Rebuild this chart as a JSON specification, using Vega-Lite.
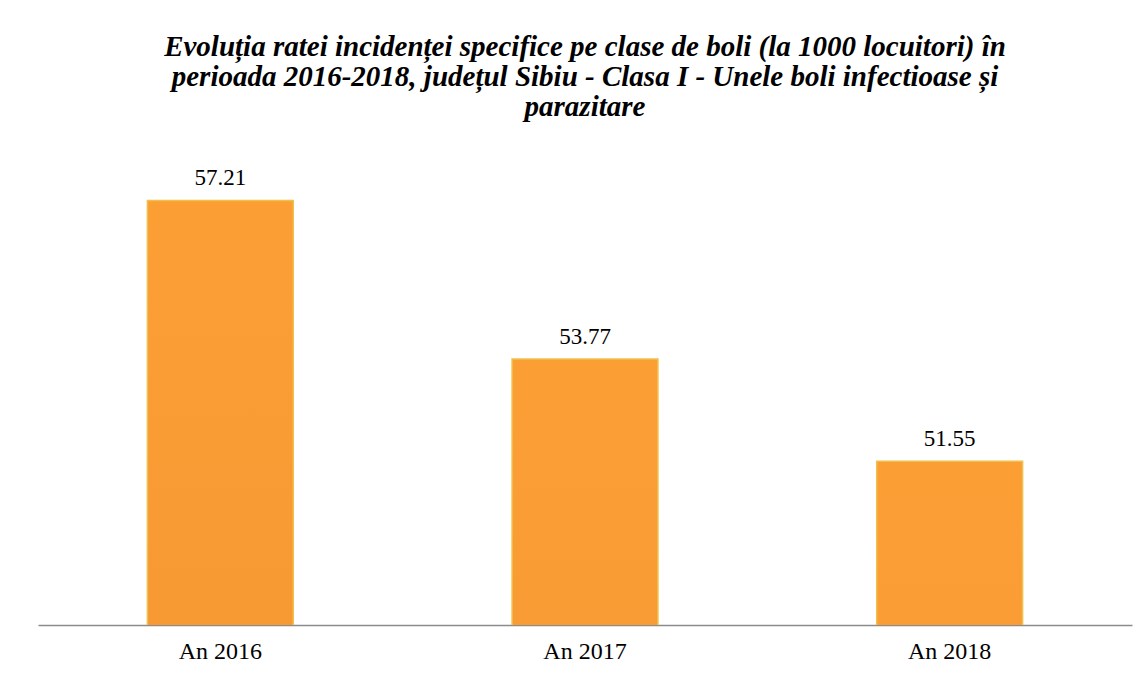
{
  "$schema": "https://vega.github.io/schema/vega-lite/v6.json",
  "autosize": "none",
  "width": 1094,
  "height": 461,
  "padding": {"left": 38, "top": 164, "right": 15, "bottom": 52},
  "background": "white",
  "title": {
    "text": ["Evoluția ratei incidenței specifice pe clase de boli (la 1000 locuitori) în", "perioada 2016-2018, județul Sibiu - Clasa I - Unele boli infectioase și", "parazitare"],
    "font": "Liberation Serif",
    "fontSize": 29,
    "fontStyle": "italic",
    "fontWeight": "bold",
    "color": "black",
    "lineHeight": 30,
    "anchor": "middle",
    "offset": 42
  },
  "data": {
    "values": [
      {"an": "An 2016", "rata": 57.21},
      {"an": "An 2017", "rata": 53.77},
      {"an": "An 2018", "rata": 51.55}
    ]
  },
  "encoding": {
    "x": {
      "field": "an",
      "type": "nominal",
      "sort": null,
      "scale": {"paddingInner": 0.6, "paddingOuter": 0.3},
      "axis": {
        "title": null,
        "labelAngle": 0,
        "labelFont": "Liberation Serif",
        "labelFontSize": 24,
        "labelColor": "black",
        "labelPadding": 14,
        "ticks": false,
        "domainColor": "#8c8c8c",
        "domainWidth": 1.5
      }
    },
    "y": {
      "field": "rata",
      "type": "quantitative",
      "scale": {"domain": [48, 58], "zero": false, "nice": false},
      "axis": null
    }
  },
  "layer": [
    {
      "mark": {
        "type": "bar",
        "clip": true,
        "color": {
          "gradient": "linear",
          "x1": 0, "y1": 0, "x2": 0, "y2": 1,
          "stops": [
            {"offset": 0, "color": "#fb9f35"},
            {"offset": 1, "color": "#e27d2b"}
          ]
        },
        "stroke": "#f0c04c",
        "strokeWidth": 1.5
      }
    },
    {
      "mark": {
        "type": "text",
        "font": "Liberation Serif",
        "fontSize": 23,
        "color": "black",
        "baseline": "alphabetic",
        "dy": -15
      },
      "encoding": {
        "text": {"field": "rata", "type": "quantitative", "format": ".2f"}
      }
    }
  ],
  "config": {
    "view": {"stroke": null}
  }
}
